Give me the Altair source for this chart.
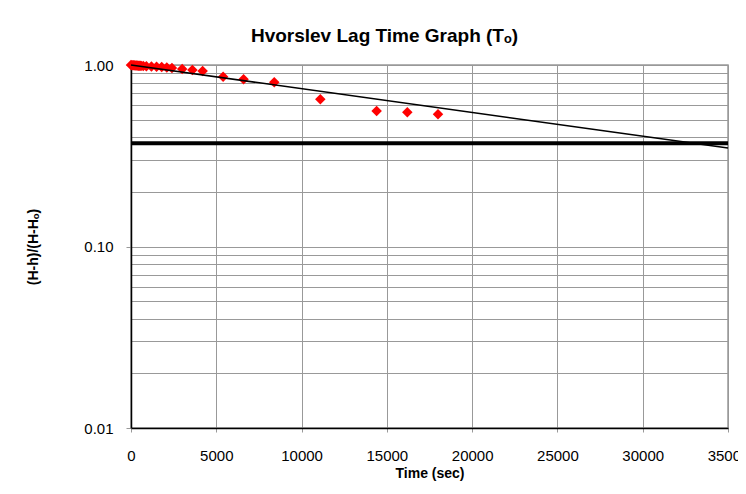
import altair as alt
import pandas as pd

# Measured data (time in seconds, normalized head ratio)
time_sec = [0, 60, 120, 180, 240, 300, 360, 420, 480, 540, 600, 720, 900, 1200,
            1500, 1800, 2100, 2400, 3000, 3600, 4200, 5400, 6600, 8400, 11100,
            14400, 16200, 18000]
ratio = [1.0, 0.998, 0.997, 0.996, 0.995, 0.994, 0.993, 0.992, 0.991, 0.990,
         0.989, 0.987, 0.985, 0.982, 0.979, 0.975, 0.969, 0.963, 0.950, 0.939,
         0.927, 0.862, 0.834, 0.803, 0.647, 0.558, 0.549, 0.535]

# Fitted straight line (on log scale)
trend_time = [0, 35000]
trend_ratio = [1.0, 0.349]

# Lag-time reference level
lag_ratio = [0.37]

x_ticks = [0, 5000, 10000, 15000, 20000, 25000, 30000, 35000]
y_ticks = [0.01, 0.02, 0.03, 0.04, 0.05, 0.06, 0.07, 0.08, 0.09,
           0.1, 0.2, 0.3, 0.4, 0.5, 0.6, 0.7, 0.8, 0.9, 1.0]

pts = pd.DataFrame({"t": time_sec, "r": ratio})
trend = pd.DataFrame({"t": trend_time, "r": trend_ratio})
lag = pd.DataFrame({"r": lag_ratio})

major_test = "datum.value == 0.01 || datum.value == 0.1 || datum.value == 1"

x_enc = alt.X(
    "t:Q",
    scale=alt.Scale(domain=[0, 35000], nice=False, zero=False),
    axis=alt.Axis(
        values=x_ticks, title="Time (sec)", format="d", grid=True,
        tickSize=4, labelPadding=16, titlePadding=3, labelFlush=False,
        labelOverlap=False,
    ),
)
y_enc = alt.Y(
    "r:Q",
    scale=alt.Scale(type="log", domain=[0.01, 1.0], nice=False),
    axis=alt.Axis(
        values=y_ticks, title="(H-h)/(H-Hₒ)", grid=True,
        labelExpr=f"({major_test}) ? format(datum.value, '.2f') : ''",
        tickSize=5, labelPadding=13, titlePadding=43, labelFlush=False,
        labelOverlap=False,
        tickOpacity={"condition": {"test": major_test, "value": 1}, "value": 0},
    ),
)

points = alt.Chart(pts).mark_point(
    shape="diamond", filled=True, color="#ff0000", size=110, opacity=1
).encode(x=x_enc, y=y_enc)

line = alt.Chart(trend).mark_line(color="black", strokeWidth=1.5).encode(
    x="t:Q", y="r:Q"
)

rule = alt.Chart(lag).mark_rule(color="black", strokeWidth=4).encode(y="r:Q")

chart = (
    alt.layer(points, line, rule)
    .properties(
        width=597,
        height=363,
        background="white",
        title=alt.TitleParams(
            "Hvorslev Lag Time Graph (Tₒ)", fontSize=19, fontWeight="bold",
            font="Liberation Sans", color="black", offset=12, dx=-45,
        ),
        autosize=alt.AutoSizeParams(type="none"),
        padding={"left": 123, "top": 57, "right": 10, "bottom": 53},
    )
    .configure_axis(
        labelFont="Liberation Sans", labelFontSize=15, labelColor="black",
        titleFont="Liberation Sans", titleFontSize=14, titleFontWeight="bold",
        titleColor="black", gridColor="#999999", gridWidth=1,
        domainColor="black", domainWidth=1.5, tickColor="#999999",
    )
    .configure_view(stroke="#999999", strokeWidth=1.5)
)

chart.save("out.html", embed_options={"renderer": "svg", "actions": False})
